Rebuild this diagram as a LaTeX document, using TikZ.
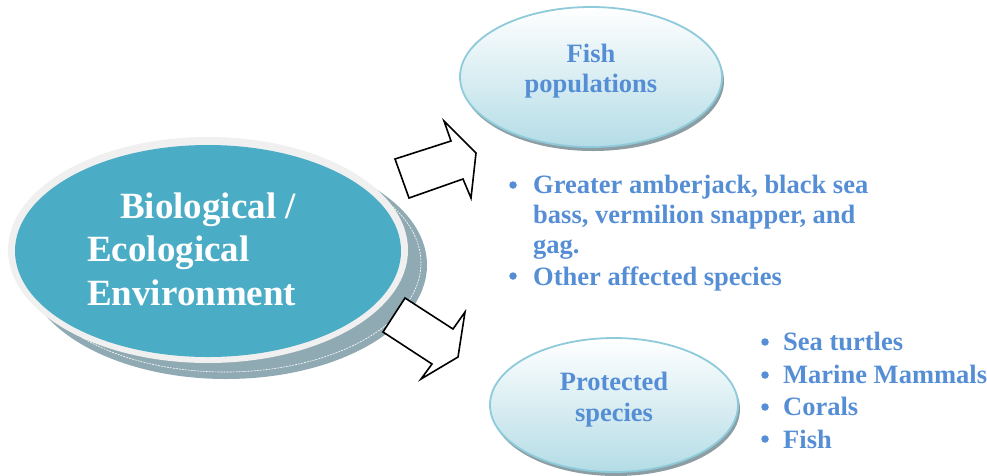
\documentclass[tikz,border=0pt]{standalone}
\usepackage{fontspec}
\setmainfont{Liberation Serif}
\definecolor{tealc}{HTML}{4BACC6}
\definecolor{rimc}{HTML}{F0F0F0}
\definecolor{shadc}{HTML}{8FAAB3}
\definecolor{bluet}{HTML}{558ED5}
\definecolor{bordc}{HTML}{8ECBDA}
\definecolor{lightb}{HTML}{B4DCE6}
\definecolor{smallshad}{HTML}{8C9EA4}
\tikzset{
  bigtxt/.style={anchor=base west, text=white, inner sep=0pt, font=\fontsize{37}{42}\bfseries\selectfont},
  ovaltxt/.style={anchor=base, text=bluet, inner sep=0pt, font=\fontsize{26.5}{30}\bfseries\selectfont},
  listtxt/.style={anchor=base west, text=bluet, inner sep=0pt, font=\fontsize{26.5}{30}\bfseries\selectfont},
  bul/.style={circle, fill=bluet, inner sep=0pt, minimum size=7.5pt},
  blockarrow/.style={draw=black, line width=1.6pt, fill=white, line join=miter},
  oval/.style={draw=bordc, line width=1.8pt, top color=white, bottom color=lightb}
}
\begin{document}
\begin{tikzpicture}[x=1pt,y=-1pt]
\useasboundingbox (0,0) rectangle (987,475);
% central disk
\fill[shadc] (226,265) ellipse [x radius=201pt, y radius=114pt];
\draw[white, dashed, line width=0.6pt, dash pattern=on 2pt off 1pt] (225,263) ellipse [x radius=196pt, y radius=109pt];
\fill[rimc] (208,250) ellipse [x radius=200pt, y radius=113pt];
\fill[tealc] (208,251) ellipse [x radius=193pt, y radius=106pt];
\node[bigtxt] (b1) at (120,218) {Biological /};
\node[bigtxt] (b2) at (87,261) {Ecological};
\node[bigtxt] (b3) at (87,305) {Environment};
% block arrows
\draw[blockarrow] (395,159) -- (451,141) -- (444,121) -- (476,153) -- (471,198) -- (463,179) -- (409,198) -- cycle;
\draw[blockarrow] (405,298) -- (453,329) -- (465,312) -- (458,357) -- (421,379) -- (432,364) -- (383,332) -- cycle;
% fish populations oval
\fill[smallshad] (593,81) ellipse [x radius=131pt, y radius=70pt];
\path[oval] (591,77) ellipse [x radius=131pt, y radius=70pt];
\node[ovaltxt] (f1) at (591,62) {Fish};
\node[ovaltxt] (f2) at (591,92) {populations};
% protected species oval
\fill[smallshad] (616,409) ellipse [x radius=124pt, y radius=67pt];
\path[oval] (614,405) ellipse [x radius=124pt, y radius=67pt];
\node[ovaltxt] (p1) at (614,390) {Protected};
\node[ovaltxt] (p2) at (614,421) {species};
% upper list
\node[bul] (u1) at (513,185) {};
\node[listtxt] (l1) at (533,193) {Greater amberjack, black sea};
\node[listtxt] (l2) at (533,223) {bass, vermilion snapper, and};
\node[listtxt] (l3) at (533,253) {gag.};
\node[bul] (u2) at (513,276) {};
\node[listtxt] (l4) at (533,285) {Other affected species};
% lower list
\node[bul] (v1) at (765,342) {};
\node[listtxt] (m1) at (783,350) {Sea turtles};
\node[bul] (v2) at (765,375) {};
\node[listtxt] (m2) at (783,383) {Marine Mammals};
\node[bul] (v3) at (765,407) {};
\node[listtxt] (m3) at (783,415) {Corals};
\node[bul] (v4) at (765,439) {};
\node[listtxt] (m4) at (783,448) {Fish};
\end{tikzpicture}
\end{document}
